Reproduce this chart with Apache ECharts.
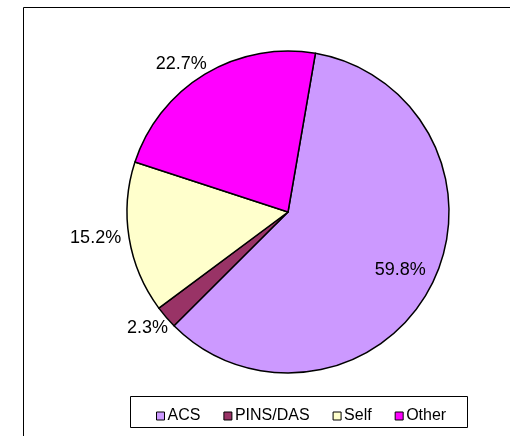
<!DOCTYPE html>
<html>
<head>
<meta charset="utf-8">
<script src="https://cdn.jsdelivr.net/npm/echarts@6/dist/echarts.min.js"></script>
<style>
html,body{margin:0;padding:0;background:#fff;}
#c{width:510px;height:436px;}
</style>
</head>
<body>
<div id="c"></div>
<script>
var categories = ['ACS', 'PINS/DAS', 'Self', 'Other'];
var values = [59.8, 2.3, 15.2, 22.7];
var colors = ['#CC99FF', '#993366', '#FFFFCC', '#FF00FF'];

var FONT = '"Liberation Sans", Arial, sans-serif';
var chart = echarts.init(document.getElementById('c'), null, {renderer: 'canvas'});

var mainData = categories.map(function (name, i) {
  var item = {name: name, value: values[i], itemStyle: {color: colors[i]}};
  if (i === 0) item.label = {show: false};
  if (name === 'PINS/DAS') {
    item.labelLine = {length: 16, length2: 0};
    item.label = {distanceToLabelLine: -14};
  }
  if (name === 'Other') {
    item.labelLine = {length: 12, length2: 0};
    item.label = {distanceToLabelLine: -8};
  }
  return item;
});
var overlayData = categories.map(function (name, i) {
  return {name: name, value: values[i], label: {show: i === 0}};
});

var option = {
  animation: false,
  backgroundColor: '#ffffff',
  graphic: [
    {type: 'rect', silent: true, z: -10,
     shape: {x: 23.5, y: 7.5, width: 600, height: 600},
     style: {fill: 'none', stroke: '#000', lineWidth: 1}},
    {type: 'rect', silent: true, z: -10,
     shape: {x: 130.5, y: 396.5, width: 337, height: 31},
     style: {fill: '#fff', stroke: '#000', lineWidth: 1}}
  ],
  legend: {
    data: categories,
    left: 151,
    top: 403,
    orient: 'horizontal',
    icon: 'rect',
    itemWidth: 8,
    itemHeight: 8,
    itemGap: 23,
    selectedMode: false,
    itemStyle: {borderColor: '#000', borderWidth: 1},
    textStyle: {fontFamily: FONT, fontSize: 16, color: '#000', padding: [0, 0, 0, -2]}
  },
  series: [
    {
      type: 'pie',
      center: [288, 212],
      radius: [0, 161],
      startAngle: 80.2,
      clockwise: true,
      avoidLabelOverlap: false,
      silent: true,
      data: mainData,
      itemStyle: {borderColor: '#000', borderWidth: 1.5},
      label: {
        show: true,
        position: 'outside',
        formatter: function (p) { return p.value.toFixed(1) + '%'; },
        fontFamily: FONT, fontSize: 18, color: '#000',
        distanceToLabelLine: 5
      },
      labelLine: {show: false, length: 3, length2: 0}
    },
    {
      type: 'pie',
      center: [288, 212],
      radius: [86, 161],
      startAngle: 80.2,
      clockwise: true,
      avoidLabelOverlap: false,
      silent: true,
      z: 5,
      data: overlayData,
      itemStyle: {color: 'rgba(0,0,0,0)', borderWidth: 0},
      label: {
        position: 'inside',
        formatter: function (p) { return p.value.toFixed(1) + '%'; },
        fontFamily: FONT, fontSize: 18, color: '#000'
      },
      labelLine: {show: false}
    }
  ]
};
chart.setOption(option);
</script>
</body>
</html>
